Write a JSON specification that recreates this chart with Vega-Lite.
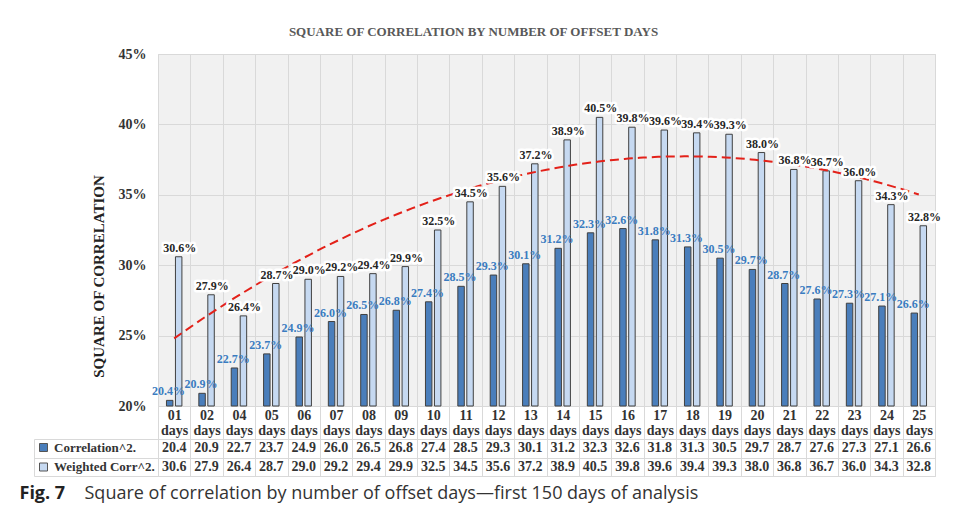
{
  "$schema": "https://vega.github.io/schema/vega-lite/v6.json",
  "background": "white",
  "padding": {"left": 18, "top": 25, "right": 5, "bottom": 5},
  "config": {"font": "Liberation Serif", "view": {"stroke": null}},
  "datasets": {
    "d": [
      {"day": "01", "idx": 1, "series": "Correlation^2.", "value": 20.4},
      {"day": "02", "idx": 2, "series": "Correlation^2.", "value": 20.9},
      {"day": "04", "idx": 3, "series": "Correlation^2.", "value": 22.7},
      {"day": "05", "idx": 4, "series": "Correlation^2.", "value": 23.7},
      {"day": "06", "idx": 5, "series": "Correlation^2.", "value": 24.9},
      {"day": "07", "idx": 6, "series": "Correlation^2.", "value": 26.0},
      {"day": "08", "idx": 7, "series": "Correlation^2.", "value": 26.5},
      {"day": "09", "idx": 8, "series": "Correlation^2.", "value": 26.8},
      {"day": "10", "idx": 9, "series": "Correlation^2.", "value": 27.4},
      {"day": "11", "idx": 10, "series": "Correlation^2.", "value": 28.5},
      {"day": "12", "idx": 11, "series": "Correlation^2.", "value": 29.3},
      {"day": "13", "idx": 12, "series": "Correlation^2.", "value": 30.1},
      {"day": "14", "idx": 13, "series": "Correlation^2.", "value": 31.2},
      {"day": "15", "idx": 14, "series": "Correlation^2.", "value": 32.3},
      {"day": "16", "idx": 15, "series": "Correlation^2.", "value": 32.6},
      {"day": "17", "idx": 16, "series": "Correlation^2.", "value": 31.8},
      {"day": "18", "idx": 17, "series": "Correlation^2.", "value": 31.3},
      {"day": "19", "idx": 18, "series": "Correlation^2.", "value": 30.5},
      {"day": "20", "idx": 19, "series": "Correlation^2.", "value": 29.7},
      {"day": "21", "idx": 20, "series": "Correlation^2.", "value": 28.7},
      {"day": "22", "idx": 21, "series": "Correlation^2.", "value": 27.6},
      {"day": "23", "idx": 22, "series": "Correlation^2.", "value": 27.3},
      {"day": "24", "idx": 23, "series": "Correlation^2.", "value": 27.1},
      {"day": "25", "idx": 24, "series": "Correlation^2.", "value": 26.6},
      {"day": "01", "idx": 1, "series": "Weighted Corr^2.", "value": 30.6},
      {"day": "02", "idx": 2, "series": "Weighted Corr^2.", "value": 27.9},
      {"day": "04", "idx": 3, "series": "Weighted Corr^2.", "value": 26.4},
      {"day": "05", "idx": 4, "series": "Weighted Corr^2.", "value": 28.7},
      {"day": "06", "idx": 5, "series": "Weighted Corr^2.", "value": 29.0},
      {"day": "07", "idx": 6, "series": "Weighted Corr^2.", "value": 29.2},
      {"day": "08", "idx": 7, "series": "Weighted Corr^2.", "value": 29.4},
      {"day": "09", "idx": 8, "series": "Weighted Corr^2.", "value": 29.9},
      {"day": "10", "idx": 9, "series": "Weighted Corr^2.", "value": 32.5},
      {"day": "11", "idx": 10, "series": "Weighted Corr^2.", "value": 34.5},
      {"day": "12", "idx": 11, "series": "Weighted Corr^2.", "value": 35.6},
      {"day": "13", "idx": 12, "series": "Weighted Corr^2.", "value": 37.2},
      {"day": "14", "idx": 13, "series": "Weighted Corr^2.", "value": 38.9},
      {"day": "15", "idx": 14, "series": "Weighted Corr^2.", "value": 40.5},
      {"day": "16", "idx": 15, "series": "Weighted Corr^2.", "value": 39.8},
      {"day": "17", "idx": 16, "series": "Weighted Corr^2.", "value": 39.6},
      {"day": "18", "idx": 17, "series": "Weighted Corr^2.", "value": 39.4},
      {"day": "19", "idx": 18, "series": "Weighted Corr^2.", "value": 39.3},
      {"day": "20", "idx": 19, "series": "Weighted Corr^2.", "value": 38.0},
      {"day": "21", "idx": 20, "series": "Weighted Corr^2.", "value": 36.8},
      {"day": "22", "idx": 21, "series": "Weighted Corr^2.", "value": 36.7},
      {"day": "23", "idx": 22, "series": "Weighted Corr^2.", "value": 36.0},
      {"day": "24", "idx": 23, "series": "Weighted Corr^2.", "value": 34.3},
      {"day": "25", "idx": 24, "series": "Weighted Corr^2.", "value": 32.8}
    ]
  },
  "bounds": "flush",
  "spacing": 33,
  "resolve": {"legend": {"color": "independent"}},
  "vconcat": [
    {
      "width": 777,
      "height": 352,
      "title": {
        "text": "SQUARE OF CORRELATION BY NUMBER OF OFFSET DAYS",
        "font": "Liberation Serif",
        "fontSize": 13,
        "fontWeight": "bold",
        "color": "#595959",
        "anchor": "middle",
        "dx": -73,
        "offset": 8
      },
      "view": {"fill": "#f1f1f1", "stroke": "#d9d9d9"},
      "data": {"name": "d"},
      "encoding": {
        "y": {
          "field": "value",
          "type": "quantitative",
          "scale": {"domain": [20, 45], "nice": false, "zero": false},
          "axis": {
            "title": "SQUARE OF CORRELATION",
            "titleFont": "Liberation Serif",
            "titleFontSize": 15,
            "titleFontWeight": "bold",
            "titleColor": "#222222",
            "titlePadding": 12,
            "titleY": 222,
            "values": [20, 25, 30, 35, 40, 45],
            "labelExpr": "datum.value + '%'",
            "labelFont": "Liberation Serif",
            "labelFontSize": 14,
            "labelFontWeight": "bold",
            "labelColor": "#333333",
            "labelPadding": 12,
            "ticks": false,
            "domain": false,
            "grid": true,
            "gridColor": "#d9d9d9"
          }
        }
      },
      "layer": [
        {
          "mark": {"type": "bar", "stroke": "#404040", "strokeWidth": 1},
          "encoding": {
            "x": {
              "field": "day",
              "type": "nominal",
              "scale": {"paddingInner": 0, "paddingOuter": 0},
              "axis": {
                "title": null,
                "labelAngle": 0,
                "labelExpr": "datum.label ? [datum.label, 'days'] : ''",
                "labelFont": "Liberation Serif",
                "labelFontWeight": "bold",
                "labelFontSize": 14,
                "labelColor": "#333333",
                "labelLineHeight": 15,
                "labelBaseline": "top",
                "labelPadding": -31,
                "tickBand": "extent",
                "tickSize": 33,
                "tickColor": "#d9d9d9",
                "domain": false,
                "grid": true,
                "gridColor": "#d9d9d9"
              }
            },
            "xOffset": {
              "field": "series",
              "type": "nominal",
              "scale": {"domain": ["Correlation^2.", "Weighted Corr^2."], "paddingInner": 0.28, "paddingOuter": 0.94}
            },
            "y2": {"datum": 20},
            "color": {
              "field": "series",
              "type": "nominal",
              "scale": {"domain": ["Correlation^2.", "Weighted Corr^2."], "range": ["#4a7ebb", "#c6d9f1"]},
              "legend": null
            }
          }
        },
        {
          "transform": [
            {"filter": "datum.series === 'Weighted Corr^2.'"},
            {"regression": "value", "on": "idx", "method": "poly", "order": 2, "extent": [1, 24]}
          ],
          "mark": {"type": "line", "color": "#e32119", "strokeWidth": 2, "strokeDash": [9, 5]},
          "encoding": {
            "x": {"field": "idx", "type": "quantitative", "scale": {"domain": [0.5, 24.5], "nice": false, "zero": false}, "axis": null}
          }
        },
        {
          "transform": [{"filter": "datum.series === 'Weighted Corr^2.'"}],
          "mark": {"type": "text", "text": {"expr": "format(datum.value, '.1f') + '%'"}, "baseline": "alphabetic", "dy": -5, "fontSize": 12, "fontWeight": "bold", "font": "Liberation Serif", "fill": "white", "stroke": "white", "strokeWidth": 5, "strokeJoin": "round"},
          "encoding": {
            "x": {"field": "day", "type": "nominal", "scale": {"paddingInner": 0, "paddingOuter": 0}, "axis": null},
            "xOffset": {"field": "series", "type": "nominal", "scale": {"domain": ["Correlation^2.", "Weighted Corr^2."], "paddingInner": 0.28, "paddingOuter": 0.94}}
          }
        },
        {
          "transform": [{"filter": "datum.series === 'Weighted Corr^2.'"}],
          "mark": {"type": "text", "text": {"expr": "format(datum.value, '.1f') + '%'"}, "baseline": "alphabetic", "dy": -5, "fontSize": 12, "fontWeight": "bold", "font": "Liberation Serif", "fill": "#262626"},
          "encoding": {
            "x": {"field": "day", "type": "nominal", "scale": {"paddingInner": 0, "paddingOuter": 0}, "axis": null},
            "xOffset": {"field": "series", "type": "nominal", "scale": {"domain": ["Correlation^2.", "Weighted Corr^2."], "paddingInner": 0.28, "paddingOuter": 0.94}}
          }
        },
        {
          "transform": [{"filter": "datum.series === 'Correlation^2.'"}],
          "mark": {"type": "text", "text": {"expr": "format(datum.value, '.1f') + '%'"}, "baseline": "alphabetic", "dy": -5, "fontSize": 12, "fontWeight": "bold", "font": "Liberation Serif", "fill": "#3a7cc0"},
          "encoding": {
            "x": {"field": "day", "type": "nominal", "scale": {"paddingInner": 0, "paddingOuter": 0}, "axis": null},
            "xOffset": {"field": "series", "type": "nominal", "scale": {"domain": ["Correlation^2.", "Weighted Corr^2."], "paddingInner": 0.28, "paddingOuter": 0.94}}
          }
        }
      ],
      "resolve": {"scale": {"x": "independent", "xOffset": "independent"}}
    },
    {
      "width": 777,
      "height": 37,
      "data": {"name": "d"},
      "view": {"stroke": "#d9d9d9"},
      "encoding": {
        "x": {
          "field": "day",
          "type": "nominal",
          "scale": {"paddingInner": 0, "paddingOuter": 0},
          "axis": {
            "title": "Square of correlation by number of offset days—first 150 days of analysis",
            "titleFont": "Open Sans",
            "titleFontSize": 18,
            "titleFontWeight": "normal",
            "titleColor": "#333333",
            "titleAlign": "left",
            "titleAnchor": "start",
            "titleBaseline": "alphabetic",
            "titleX": -74,
            "titleY": 22,
            "labels": false,
            "ticks": false,
            "domain": false,
            "grid": true,
            "gridColor": "#d9d9d9",
            "tickBand": "extent"
          }
        },
        "y": {
          "field": "series",
          "type": "nominal",
          "scale": {"domain": ["Correlation^2.", "Weighted Corr^2."], "paddingInner": 0, "paddingOuter": 0},
          "axis": {
            "title": "Fig. 7",
            "titleFont": "Open Sans",
            "titleFontSize": 18,
            "titleFontWeight": "bold",
            "titleColor": "#222222",
            "titleAngle": 0,
            "titleAlign": "left",
            "titleBaseline": "alphabetic",
            "titleX": -15,
            "titleY": 59,
            "labels": false,
            "offset": 124,
            "domain": true,
            "domainColor": "#d9d9d9",
            "ticks": true,
            "tickSize": -124,
            "tickColor": "#d9d9d9",
            "tickBand": "extent",
            "grid": true,
            "gridColor": "#d9d9d9"
          }
        }
      },
      "layer": [
        {
          "mark": {"type": "text", "text": {"expr": "format(datum.value, '.1f')"}, "font": "Liberation Serif", "fontSize": 14, "fontWeight": "bold", "fill": "#333333", "baseline": "middle"}
        },
        {
          "mark": {"type": "text", "text": ""},
          "encoding": {
            "color": {
              "field": "series",
              "type": "nominal",
              "scale": {"domain": ["Correlation^2.", "Weighted Corr^2."], "range": ["#4a7ebb", "#c6d9f1"]},
              "legend": {
                "orient": "none",
                "legendX": -121,
                "legendY": 2,
                "title": null,
                "symbolType": "square",
                "symbolSize": 64,
                "symbolStrokeColor": "#555555",
                "symbolStrokeWidth": 1,
                "symbolOpacity": 1,
                "labelFont": "Liberation Serif",
                "labelFontWeight": "bold",
                "labelFontSize": 13,
                "labelColor": "#333333",
                "labelOffset": 4,
                "rowPadding": 5.5,
                "padding": 0
              }
            }
          }
        }
      ]
    }
  ]
}
